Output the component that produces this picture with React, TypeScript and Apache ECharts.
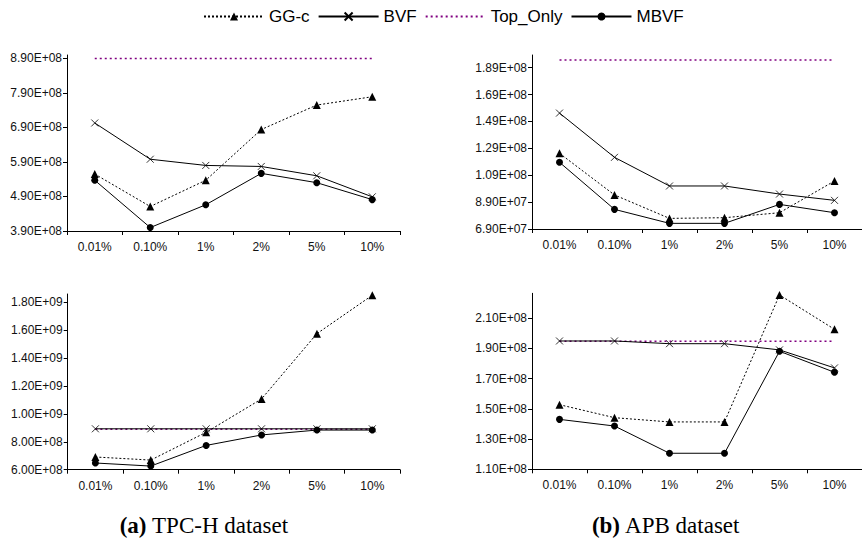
import React, { useEffect, useRef } from "react";
import * as echarts from "echarts";

const categories = ["0.01%", "0.10%", "1%", "2%", "5%", "10%"];
const seriesNames = ["GG-c", "BVF", "Top_Only", "MBVF"];

// (a) TPC-H, upper panel
const tpchTopGGc = [5.55e8, 4.61e8, 5.37e8, 6.84e8, 7.55e8, 7.79e8];
const tpchTopBVF = [7.03e8, 5.98e8, 5.8e8, 5.77e8, 5.5e8, 4.89e8];
const tpchTopTopOnly = [8.9e8, 8.9e8, 8.9e8, 8.9e8, 8.9e8, 8.9e8];
const tpchTopMBVF = [5.37e8, 4.0e8, 4.66e8, 5.57e8, 5.3e8, 4.81e8];
const tpchTopTicks = [3.9e8, 4.9e8, 5.9e8, 6.9e8, 7.9e8, 8.9e8];

// (b) APB, upper panel
const apbTopGGc = [1.253e8, 9.43e7, 7.69e7, 7.74e7, 8.11e7, 1.047e8];
const apbTopBVF = [1.552e8, 1.223e8, 1.01e8, 1.01e8, 9.5e7, 9.03e7];
const apbTopTopOnly = [1.946e8, 1.946e8, 1.946e8, 1.946e8, 1.946e8, 1.946e8];
const apbTopMBVF = [1.186e8, 8.36e7, 7.32e7, 7.32e7, 8.73e7, 8.11e7];
const apbTopTicks = [6.9e7, 8.9e7, 1.09e8, 1.29e8, 1.49e8, 1.69e8, 1.89e8];

// (a) TPC-H, lower panel
const tpchBotGGc = [6.91e8, 6.69e8, 8.68e8, 1.107e9, 1.575e9, 1.85e9];
const tpchBotBVF = [8.93e8, 8.93e8, 8.93e8, 8.93e8, 8.93e8, 8.93e8];
const tpchBotTopOnly = [8.9e8, 8.9e8, 8.9e8, 8.9e8, 8.9e8, 8.9e8];
const tpchBotMBVF = [6.48e8, 6.26e8, 7.74e8, 8.49e8, 8.84e8, 8.84e8];
const tpchBotTicks = [6e8, 8e8, 1e9, 1.2e9, 1.4e9, 1.6e9, 1.8e9];

// (b) APB, lower panel
const apbBotGGc = [1.527e8, 1.441e8, 1.413e8, 1.413e8, 2.252e8, 2.025e8];
const apbBotBVF = [1.948e8, 1.948e8, 1.93e8, 1.93e8, 1.889e8, 1.77e8];
const apbBotTopOnly = [1.946e8, 1.946e8, 1.946e8, 1.946e8, 1.946e8, 1.946e8];
const apbBotMBVF = [1.43e8, 1.386e8, 1.206e8, 1.206e8, 1.88e8, 1.741e8];
const apbBotTicks = [1.1e8, 1.3e8, 1.5e8, 1.7e8, 1.9e8, 2.1e8];

function fmt(v: number): string {
  if (v <= 0) return "0";
  const e = Math.floor(Math.log10(v) + 1e-9);
  const m = v / Math.pow(10, e);
  return m.toFixed(2) + "E+" + String(e).padStart(2, "0");
}

const FONT = "Liberation Sans, Arial, sans-serif";
const SERIF = "Liberation Serif, Times New Roman, serif";

const panels = [
  { grid: { left: 67, top: 55, width: 333, height: 176 }, min: 3.9e8, max: 9.0e8, ticks: tpchTopTicks, data: [tpchTopGGc, tpchTopBVF, tpchTopTopOnly, tpchTopMBVF] },
  { grid: { left: 532, top: 55, width: 332, height: 174 }, min: 6.9e7, max: 1.984e8, ticks: apbTopTicks, data: [apbTopGGc, apbTopBVF, apbTopTopOnly, apbTopMBVF] },
  { grid: { left: 67.7, top: 294, width: 332.3, height: 175.7 }, min: 6e8, max: 1.859e9, ticks: tpchBotTicks, data: [tpchBotGGc, tpchBotBVF, tpchBotTopOnly, tpchBotMBVF] },
  { grid: { left: 532, top: 293.3, width: 332, height: 176 }, min: 1.1e8, max: 2.263e8, ticks: apbBotTicks, data: [apbBotGGc, apbBotBVF, apbBotTopOnly, apbBotMBVF] },
];

const seriesStyles: any[] = [
  { symbol: "triangle", symbolSize: 8, lineStyle: { color: "#000", width: 1, type: [2, 2] }, itemStyle: { color: "#000" } },
  { symbol: "path://M0,0L10,10M10,0L0,10", symbolSize: 7, lineStyle: { color: "#000", width: 1, type: "solid" }, itemStyle: { color: "#000", borderColor: "#000", borderWidth: 0.8 } },
  { symbol: "none", symbolSize: 0, lineStyle: { color: "#800080", width: 1.5, type: [2, 3] }, itemStyle: { color: "#800080" } },
  { symbol: "circle", symbolSize: 7, lineStyle: { color: "#000", width: 1, type: "solid" }, itemStyle: { color: "#000" } },
];

export default function App() {
  const ref = useRef<HTMLDivElement>(null);
  useEffect(() => {
    if (!ref.current) return;
    const chart = echarts.init(ref.current, null, { renderer: "svg" });
    const grids = panels.map((p) => ({ ...p.grid, containLabel: false }));
    const xAxes = panels.map((_, i) => ({
      type: "category",
      gridIndex: i,
      data: categories,
      boundaryGap: true,
      axisLine: { show: true, lineStyle: { color: "#000", width: 1 } },
      axisTick: { show: true, inside: false, length: 4, lineStyle: { color: "#000" } },
      axisLabel: { color: "#111", fontSize: 12, fontFamily: FONT, margin: 10 },
      splitLine: { show: false },
    }));
    const yAxes = panels.map((p, i) => ({
      type: "value",
      gridIndex: i,
      min: p.min,
      max: p.max,
      axisLine: { show: true, lineStyle: { color: "#000", width: 1 } },
      axisTick: { show: true, inside: false, length: 4, lineStyle: { color: "#000" }, customValues: p.ticks },
      axisLabel: { color: "#111", fontSize: 12, fontFamily: FONT, margin: 5, formatter: (v: number) => fmt(v), customValues: p.ticks },
      splitLine: { show: false },
    }));
    const series: any[] = [];
    panels.forEach((p, i) => {
      seriesNames.forEach((name, k) => {
        series.push({
          type: "line",
          name,
          xAxisIndex: i,
          yAxisIndex: i,
          data: p.data[k],
          ...seriesStyles[k],
          showSymbol: seriesStyles[k].symbol !== "none",
          z: k === 2 ? 1 : 2,
        });
      });
    });
    chart.setOption({
      animation: false,
      backgroundColor: "#fff",
      legend: {
        data: [
          { name: "GG-c" },
          { name: "BVF" },
          { name: "Top_Only", itemStyle: { opacity: 0 } },
          { name: "MBVF" },
        ],
        left: 198,
        top: 3,
        itemWidth: 60,
        itemHeight: 10,
        itemGap: 8,
        textStyle: { fontSize: 17, color: "#000", fontFamily: FONT },
      },
      grid: grids,
      xAxis: xAxes,
      yAxis: yAxes,
      series,
      graphic: [
        {
          type: "text",
          x: 204,
          y: 525,
          style: {
            text: "{b|(a)} TPC-H dataset",
            fontSize: 23,
            fontFamily: SERIF,
            fill: "#000",
            align: "center",
            verticalAlign: "middle",
            rich: { b: { fontWeight: "bold", fontSize: 23, fontFamily: SERIF } },
          },
        },
        {
          type: "text",
          x: 666,
          y: 525,
          style: {
            text: "{b|(b)} APB dataset",
            fontSize: 23,
            fontFamily: SERIF,
            fill: "#000",
            align: "center",
            verticalAlign: "middle",
            rich: { b: { fontWeight: "bold", fontSize: 23, fontFamily: SERIF } },
          },
        },
      ],
    });
    return () => chart.dispose();
  }, []);
  return <div ref={ref} style={{ position: "fixed", left: 0, top: 0, width: 862, height: 540 }} />;
}
